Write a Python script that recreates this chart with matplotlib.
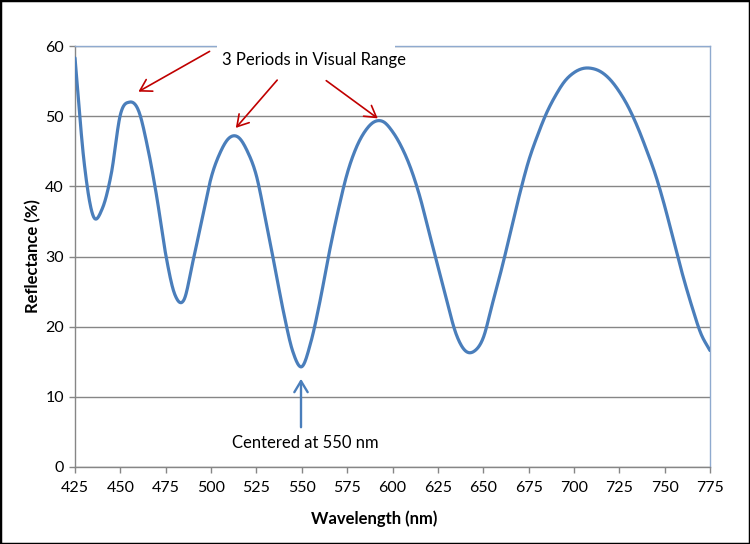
import numpy as np
import matplotlib
matplotlib.use("Agg")
import matplotlib.pyplot as plt
from matplotlib.patches import Rectangle, FancyArrowPatch

# ---- data ----
wavelength = [425, 430, 435, 440, 445, 450, 455, 460, 465, 470, 475, 480, 485,
              490, 495, 500, 505, 510, 515, 520, 525, 530, 535, 540, 545, 550,
              555, 560, 565, 570, 575, 580, 585, 590, 595, 600, 605, 610, 615,
              620, 625, 630, 635, 640, 645, 650, 655, 660, 665, 670, 675, 680,
              685, 690, 695, 700, 705, 710, 715, 720, 725, 730, 735, 740, 745,
              750, 755, 760, 765, 770, 775]
reflectance = [58.3, 43.5, 35.8, 36.8, 41.8, 50.2, 52.0, 50.8, 45.6, 38.6, 30.3, 24.6, 23.8,
               29.3, 35.3, 41.2, 44.8, 46.9, 47.0, 45.0, 41.5, 35.3, 28.7, 22.0, 16.5, 14.3,
               17.8, 23.6, 30.4, 36.5, 41.8, 45.5, 47.9, 49.2, 49.2, 47.8, 45.6, 42.6, 38.6,
               33.6, 28.6, 23.6, 19.0, 16.6, 16.5, 18.4, 23.2, 28.1, 33.4, 38.8, 43.6, 47.3,
               50.5, 53.0, 55.0, 56.2, 56.8, 56.8, 56.3, 55.2, 53.5, 51.3, 48.5, 45.2, 41.6,
               37.2, 32.2, 27.3, 22.9, 19.0, 16.6]
x_ticks = list(range(425, 776, 25))
y_ticks = [0, 10, 20, 30, 40, 50, 60]


def smooth_path(x, y, n=20):
    """Catmull-Rom style smoothing as used by spreadsheet 'smoothed line' charts."""
    x = np.asarray(x, float)
    y = np.asarray(y, float)
    px = np.concatenate([[2 * x[0] - x[1]], x, [2 * x[-1] - x[-2]]])
    py = np.concatenate([[2 * y[0] - y[1]], y, [2 * y[-1] - y[-2]]])
    xs, ys = [], []
    t = np.linspace(0, 1, n, endpoint=False)
    for i in range(1, len(px) - 2):
        for arr, out in ((px, xs), (py, ys)):
            p0, p1, p2, p3 = arr[i - 1], arr[i], arr[i + 1], arr[i + 2]
            out.extend(0.5 * ((2 * p1) + (-p0 + p2) * t +
                              (2 * p0 - 5 * p1 + 4 * p2 - p3) * t ** 2 +
                              (-p0 + 3 * p1 - 3 * p2 + p3) * t ** 3))
    xs.append(x[-1])
    ys.append(y[-1])
    return np.array(xs), np.array(ys)


plt.rcParams['font.family'] = ['Lato', 'DejaVu Sans']

fig = plt.figure(figsize=(7.5, 5.44), dpi=100)
ax = fig.add_axes([75 / 750, 1 - 467 / 544, 635 / 750, 421 / 544])

grid_c = '#868686'
border_c = '#8FAACF'
line_c = '#4A7EBB'

sx, sy = smooth_path(wavelength, reflectance)
ax.plot(sx, sy, color=line_c, lw=2.3, solid_capstyle='round', zorder=3)

ax.set_xlim(425, 775)
ax.set_ylim(0, 60)
ax.set_xticks(x_ticks)
ax.set_yticks(y_ticks)
ax.yaxis.grid(True, color=grid_c, lw=1.0)
ax.set_axisbelow(True)

ax.spines['left'].set_color(grid_c)
ax.spines['bottom'].set_color(grid_c)
ax.spines['top'].set_color(border_c)
ax.spines['right'].set_color(border_c)
for s in ax.spines.values():
    s.set_linewidth(1.0)

ax.tick_params(axis='both', direction='out', length=4, width=1, color=grid_c,
               labelsize=11.5, labelcolor='black')
ax.tick_params(axis='x', pad=6)
ax.tick_params(axis='y', pad=4)


def fpx(x, y):
    return (x / 750, 1 - y / 544)


fig.text(*fpx(374, 519), 'Wavelength (nm)', ha='center', va='center',
         fontsize=12, fontweight='bold')
fig.text(*fpx(33, 256), 'Reflectance (%)', ha='center', va='center',
         fontsize=12, fontweight='bold', rotation=90)

# white box behind the annotation title, breaking the top border
fig.patches.append(Rectangle(fpx(217, 56), 178 / 750, 16 / 544,
                             transform=fig.transFigure, facecolor='white',
                             edgecolor='none', zorder=10))
fig.text(*fpx(314, 60), '3 Periods in Visual Range', ha='center',
         va='center', fontsize=12, zorder=11)

red = '#C00000'
for (x0, y0), (x1, y1) in [((212, 50), (136, 93)),
                           ((279, 78), (234, 130)),
                           ((324, 79), (380, 120))]:
    fig.add_artist(FancyArrowPatch(
        fpx(x0, y0), fpx(x1, y1), transform=fig.transFigure,
        arrowstyle='->,head_length=5,head_width=3', color=red, lw=1.2,
        mutation_scale=1.6, zorder=12))

fig.add_artist(FancyArrowPatch(
    fpx(301, 430), fpx(301, 376), transform=fig.transFigure,
    arrowstyle='->,head_length=5,head_width=3', color=line_c, lw=1.7,
    mutation_scale=1.6, zorder=12))
fig.text(*fpx(305, 443), 'Centered at 550 nm', ha='center',
         va='center', fontsize=12)

# outer black frame
fig.patches.append(Rectangle((0, 0), 1, 1, transform=fig.transFigure,
                             facecolor='none', edgecolor='black', lw=2.5,
                             zorder=20))

fig.savefig('out.png', dpi=100)
